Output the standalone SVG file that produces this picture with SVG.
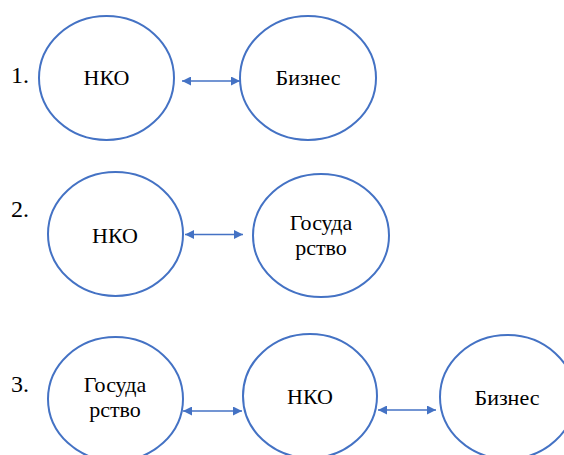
<svg xmlns="http://www.w3.org/2000/svg" width="564" height="455" viewBox="0 0 564 455">
<defs>
<style>
.node ellipse{fill:#fff;stroke:#4472C4;stroke-width:2}
.lbl{font-family:'Liberation Serif','Times New Roman','DejaVu Serif',serif;font-size:22px;fill:#000;text-anchor:middle}
.num{font-family:'Liberation Serif','Times New Roman','DejaVu Serif',serif;font-size:24px;fill:#000}
.conn line{stroke:#4472C4;stroke-width:1.5}
</style>
<marker id="ah" viewBox="0 0 10 10" refX="10" refY="5" markerWidth="9" markerHeight="9" markerUnits="userSpaceOnUse" orient="auto-start-reverse">
<path d="M0,0 L10,5 L0,10 z" fill="#4472C4"/>
</marker>
</defs>
<rect width="564" height="455" fill="#fff"/>
<text class="num" x="11" y="83">1.</text>
<text class="num" x="11" y="217">2.</text>
<text class="num" x="11" y="392">3.</text>
<g id="r1-nko" class="node"><ellipse cx="106.5" cy="78" rx="67.5" ry="62"/><text class="lbl" x="106.5" y="85">НКО</text></g>
<g id="r1-biz" class="node"><ellipse cx="308" cy="78" rx="68" ry="62"/><text class="lbl" x="308" y="85">Бизнес</text></g>
<g id="r2-nko" class="node"><ellipse cx="115.5" cy="234" rx="67.5" ry="62"/><text class="lbl" x="115" y="243">НКО</text></g>
<g id="r2-gos" class="node"><ellipse cx="321" cy="235.5" rx="68" ry="61.5"/><text class="lbl" x="321" y="230">Госуда</text><text class="lbl" x="321" y="255">рство</text></g>
<g id="r3-gos" class="node"><ellipse cx="115.5" cy="399" rx="67.5" ry="62"/><text class="lbl" x="115" y="392">Госуда</text><text class="lbl" x="115" y="417">рство</text></g>
<g id="r3-nko" class="node"><ellipse cx="310" cy="396" rx="67" ry="62"/><text class="lbl" x="310" y="404">НКО</text></g>
<g id="r3-biz" class="node"><ellipse cx="507.5" cy="397" rx="67.5" ry="62"/><text class="lbl" x="507" y="405">Бизнес</text></g>
<g id="connectors" class="conn">
<line x1="182" y1="81" x2="240" y2="81" marker-start="url(#ah)" marker-end="url(#ah)"/>
<line x1="185" y1="234.5" x2="243" y2="234.5" marker-start="url(#ah)" marker-end="url(#ah)"/>
<line x1="183" y1="411" x2="242" y2="411" marker-start="url(#ah)" marker-end="url(#ah)"/>
<line x1="378" y1="410" x2="436" y2="410" marker-start="url(#ah)" marker-end="url(#ah)"/>
</g>
</svg>
